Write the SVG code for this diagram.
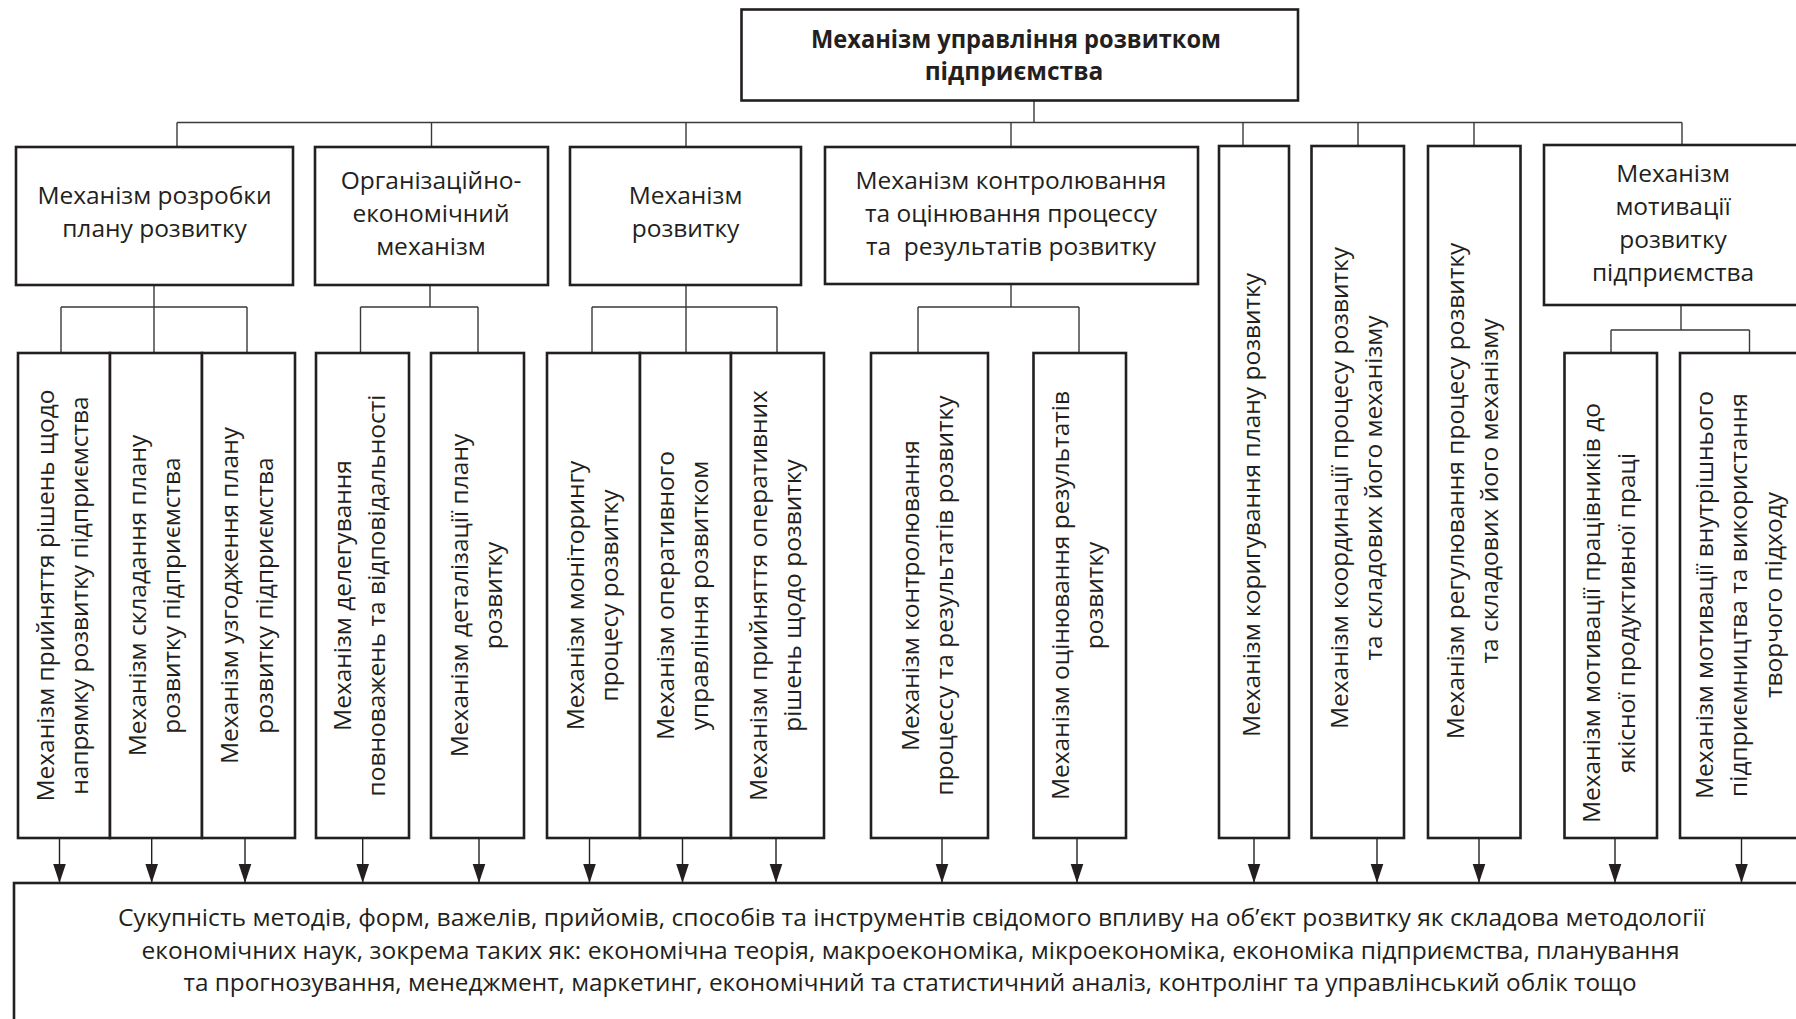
<svg xmlns="http://www.w3.org/2000/svg" width="1796" height="1019" viewBox="0 0 1796 1019">
<defs>
<marker id="arr" viewBox="0 -7 19 14" refX="19" refY="0" markerWidth="19" markerHeight="14" markerUnits="userSpaceOnUse" orient="auto"><path d="M0,-6.3 L19,0 L0,6.3 z" fill="#231f20"/></marker>
<style>
.box{fill:#fff;stroke:#231f20;stroke-width:2.6}
.t{font-family:"Open Sans","Noto Sans","DejaVu Sans",sans-serif;font-size:24.5px;fill:#231f20;text-anchor:middle}
.b{font-weight:bold}
.c{fill:none;stroke:#3a3a3a;stroke-width:1.4}
.a{stroke:#231f20;stroke-width:1.4;marker-end:url(#arr)}
</style>
</defs>
<rect width="1796" height="1019" fill="#fff"/>
<g id="connectors">
<path class="c" d="M1034,100V122.5 M177,122.5H1682 M177,122.5V147 M431.5,122.5V147 M686,122.5V147 M1011,122.5V147 M1243,122.5V146 M1358,122.5V146 M1474,122.5V146 M1682,122.5V145 M154,285V307 M61,307H247 M61,307V353 M154,307V353 M247,307V353 M430,285V307 M360.5,307H478 M360.5,307V353 M478,307V353 M686,285V307 M592,307H777 M592,307V353 M686,307V353 M777,307V353 M1011,284V307 M918,307H1079 M918,307V353 M1079,307V353 M1681,305V330 M1611,330H1749.5 M1611,330V353 M1749.5,330V353"/>
<line class="a" x1="59.5" y1="838" x2="59.5" y2="883"/>
<line class="a" x1="151.7" y1="838" x2="151.7" y2="883"/>
<line class="a" x1="245" y1="838" x2="245" y2="883"/>
<line class="a" x1="362.7" y1="838" x2="362.7" y2="883"/>
<line class="a" x1="479" y1="838" x2="479" y2="883"/>
<line class="a" x1="589.5" y1="838" x2="589.5" y2="883"/>
<line class="a" x1="682.5" y1="838" x2="682.5" y2="883"/>
<line class="a" x1="776" y1="838" x2="776" y2="883"/>
<line class="a" x1="942" y1="838" x2="942" y2="883"/>
<line class="a" x1="1077" y1="838" x2="1077" y2="883"/>
<line class="a" x1="1254" y1="838" x2="1254" y2="883"/>
<line class="a" x1="1377" y1="838" x2="1377" y2="883"/>
<line class="a" x1="1479" y1="838" x2="1479" y2="883"/>
<line class="a" x1="1615" y1="838" x2="1615" y2="883"/>
<line class="a" x1="1741.5" y1="838" x2="1741.5" y2="883"/>
</g>
<g id="root">
<rect class="box" x="741.5" y="9.5" width="556.5" height="91"/>
<text class="t b"><tspan x="1016" y="47.5" textLength="410" lengthAdjust="spacingAndGlyphs">Механізм управління розвитком</tspan><tspan x="1014" y="80">підприємства</tspan></text>
</g>
<g id="n1">
<rect class="box" x="16" y="147" width="277" height="138"/>
<text class="t"><tspan x="154.5" y="204">Механізм розробки</tspan><tspan x="154.5" y="237">плану розвитку</tspan></text>
</g>
<g id="n2">
<rect class="box" x="315" y="147" width="233" height="138"/>
<text class="t"><tspan x="431" y="189">Організаційно-</tspan><tspan x="431" y="222">економічний</tspan><tspan x="431" y="255">механізм</tspan></text>
</g>
<g id="n3">
<rect class="box" x="570" y="147" width="231" height="138"/>
<text class="t"><tspan x="685.5" y="204">Механізм</tspan><tspan x="685.5" y="237">розвитку</tspan></text>
</g>
<g id="n4">
<rect class="box" x="825" y="147" width="373" height="137"/>
<text class="t"><tspan x="1011" y="189">Механізм контролювання</tspan><tspan x="1011" y="222">та оцінювання процессу</tspan><tspan x="1011" y="255" xml:space="preserve">та  результатів розвитку</tspan></text>
</g>
<g id="n5">
<rect class="box" x="1219" y="146" width="70" height="692"/>
<text class="t" transform="translate(1253,505) rotate(-90)"><tspan x="0" y="7">Механізм коригування плану розвитку</tspan></text>
</g>
<g id="n6">
<rect class="box" x="1311.5" y="146" width="92.5" height="692"/>
<text class="t" transform="translate(1358,488) rotate(-90)"><tspan x="0" y="-10.25">Механізм координації процесу розвитку</tspan><tspan x="0" y="24.25">та складових його механізму</tspan></text>
</g>
<g id="n7">
<rect class="box" x="1428" y="146" width="92.5" height="692"/>
<text class="t" transform="translate(1474,491) rotate(-90)"><tspan x="0" y="-10.25">Механізм регулювання процесу розвитку</tspan><tspan x="0" y="24.25">та складових його механізму</tspan></text>
</g>
<g id="n8">
<rect class="box" x="1544" y="145" width="258" height="160"/>
<text class="t"><tspan x="1673" y="181.5">Механізм</tspan><tspan x="1673" y="214.5">мотивації</tspan><tspan x="1673" y="247.5">розвитку</tspan><tspan x="1673" y="280.5">підприємства</tspan></text>
</g>
<g id="n1a">
<rect class="box" x="18" y="353" width="92" height="485"/>
<text class="t" transform="translate(64,595.5) rotate(-90)"><tspan x="0" y="-10.25">Механізм прийняття рішень щодо</tspan><tspan x="0" y="24.25">напрямку розвитку підприємства</tspan></text>
</g>
<g id="n1b">
<rect class="box" x="110" y="353" width="92" height="485"/>
<text class="t" transform="translate(156,595.5) rotate(-90)"><tspan x="0" y="-10.25">Механізм складання плану</tspan><tspan x="0" y="24.25">розвитку підприємства</tspan></text>
</g>
<g id="n1c">
<rect class="box" x="202" y="353" width="93" height="485"/>
<text class="t" transform="translate(248.5,595.5) rotate(-90)"><tspan x="0" y="-10.25">Механізм узгодження плану</tspan><tspan x="0" y="24.25">розвитку підприємства</tspan></text>
</g>
<g id="n2a">
<rect class="box" x="316" y="353" width="93" height="485"/>
<text class="t" transform="translate(361,595.5) rotate(-90)"><tspan x="0" y="-10.25">Механізм делегування</tspan><tspan x="0" y="24.25">повноважень та відповідальності</tspan></text>
</g>
<g id="n2b">
<rect class="box" x="431" y="353" width="93" height="485"/>
<text class="t" transform="translate(478,595.5) rotate(-90)"><tspan x="0" y="-10.25">Механізм деталізації плану</tspan><tspan x="0" y="24.25">розвитку</tspan></text>
</g>
<g id="n3a">
<rect class="box" x="547" y="353" width="93" height="485"/>
<text class="t" transform="translate(594,595.5) rotate(-90)"><tspan x="0" y="-10.25">Механізм моніторингу</tspan><tspan x="0" y="24.25">процесу розвитку</tspan></text>
</g>
<g id="n3b">
<rect class="box" x="640" y="353" width="91" height="485"/>
<text class="t" transform="translate(684,595.5) rotate(-90)"><tspan x="0" y="-10.25">Механізм оперативного</tspan><tspan x="0" y="24.25">управління розвитком</tspan></text>
</g>
<g id="n3c">
<rect class="box" x="731" y="353" width="93" height="485"/>
<text class="t" transform="translate(777,595.5) rotate(-90)"><tspan x="0" y="-10.25">Механізм прийняття оперативних</tspan><tspan x="0" y="24.25">рішень щодо розвитку</tspan></text>
</g>
<g id="n4a">
<rect class="box" x="871" y="353" width="117" height="485"/>
<text class="t" transform="translate(929,595.5) rotate(-90)"><tspan x="0" y="-10.25">Механізм контролювання</tspan><tspan x="0" y="24.25">процессу та результатів розвитку</tspan></text>
</g>
<g id="n4b">
<rect class="box" x="1033.5" y="353" width="92.5" height="485"/>
<text class="t" transform="translate(1079,595.5) rotate(-90)"><tspan x="0" y="-10.25">Механізм оцінювання результатів</tspan><tspan x="0" y="24.25">розвитку</tspan></text>
</g>
<g id="n8a">
<rect class="box" x="1564.5" y="353" width="92.5" height="485"/>
<text class="t" transform="translate(1610.5,613) rotate(-90)"><tspan x="0" y="-10.25">Механізм мотивації працівників до</tspan><tspan x="0" y="24.25">якісної продуктивної праці</tspan></text>
</g>
<g id="n8b">
<rect class="box" x="1680" y="353" width="140" height="485"/>
<text class="t" transform="translate(1740,595) rotate(-90)"><tspan x="0" y="-27.5">Механізм мотивації внутрішнього</tspan><tspan x="0" y="7">підприємництва та використання</tspan><tspan x="0" y="41.5">творчого підходу</tspan></text>
</g>
<g id="bottom">
<rect class="box" x="14" y="883" width="1810" height="200"/>
<text class="t" style="font-size:23.5px"><tspan x="911.5" y="925.5" textLength="1587" lengthAdjust="spacingAndGlyphs">Сукупність методів, форм, важелів, прийомів, способів та інструментів свідомого впливу на об’єкт розвитку як складова методології</tspan><tspan x="910.5" y="958.5" textLength="1538" lengthAdjust="spacingAndGlyphs">економічних наук, зокрема таких як: економічна теорія, макроекономіка, мікроекономіка, економіка підприємства, планування</tspan><tspan x="910" y="991" textLength="1453" lengthAdjust="spacingAndGlyphs">та прогнозування, менеджмент, маркетинг, економічний та статистичний аналіз, контролінг та управлінський облік тощо</tspan></text>
</g>
</svg>
